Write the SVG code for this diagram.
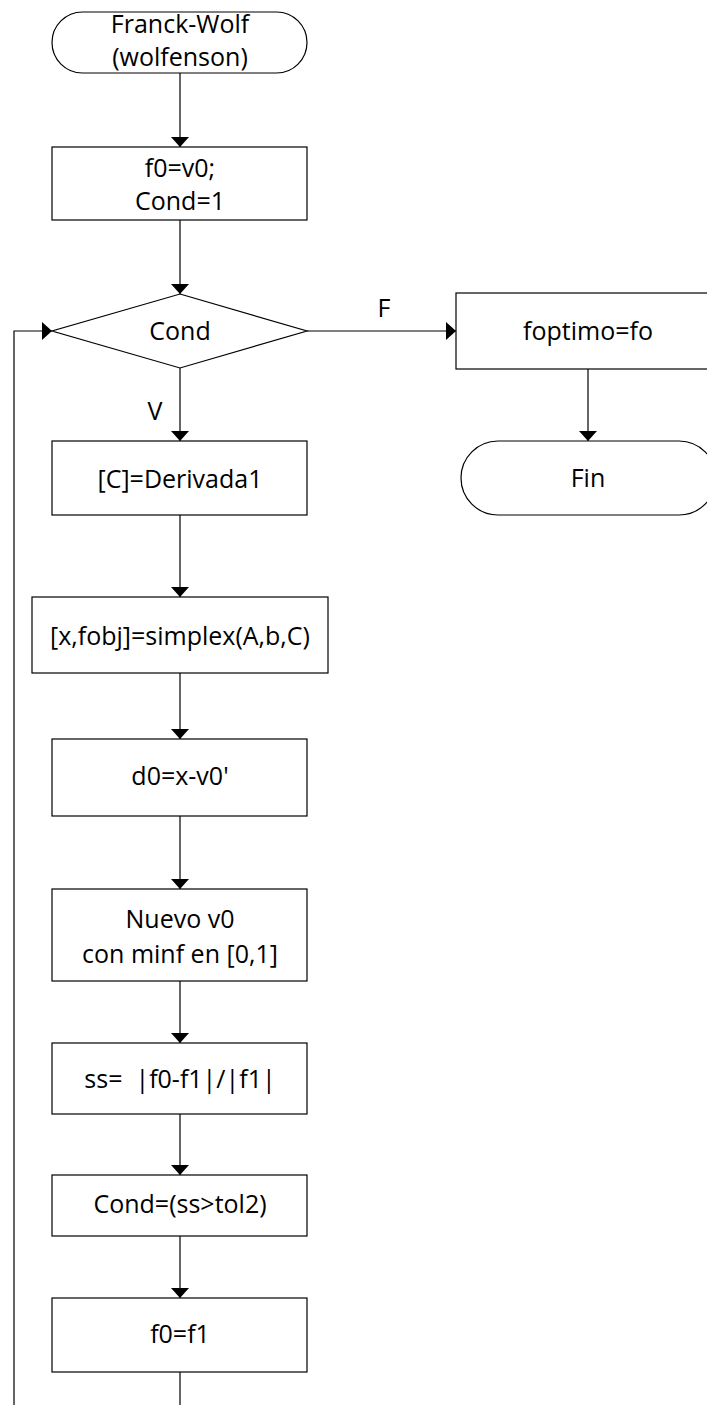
<svg xmlns="http://www.w3.org/2000/svg" width="707" height="1405" viewBox="0 0 707 1405">
<style>
.s{fill:#fff;stroke:#000;stroke-width:1.2}
.c{fill:none;stroke:#000;stroke-width:1.2}
text{font-family:"Open Sans","Liberation Sans",sans-serif;font-size:25px;fill:#000;text-anchor:middle}
</style>
<defs>
<marker id="ah" viewBox="0 0 10 18" refX="10" refY="9" markerWidth="10" markerHeight="18" markerUnits="userSpaceOnUse" orient="auto">
<path d="M0,0 L10,9 L0,18 z" fill="#000"/>
</marker>
</defs>
<rect width="707" height="1405" fill="#fff"/>
<g id="connectors">
<path class="c" d="M180,73 V147" marker-end="url(#ah)"/>
<path class="c" d="M180,220 V294" marker-end="url(#ah)"/>
<path class="c" d="M180,368 V441" marker-end="url(#ah)"/>
<path class="c" d="M307,331 H456" marker-end="url(#ah)"/>
<path class="c" d="M588,369 V441" marker-end="url(#ah)"/>
<path class="c" d="M180,515 V597" marker-end="url(#ah)"/>
<path class="c" d="M180,673 V739" marker-end="url(#ah)"/>
<path class="c" d="M180,816 V889" marker-end="url(#ah)"/>
<path class="c" d="M180,981 V1043" marker-end="url(#ah)"/>
<path class="c" d="M180,1114 V1175" marker-end="url(#ah)"/>
<path class="c" d="M180,1236 V1298" marker-end="url(#ah)"/>
<path class="c" d="M180,1372 V1405"/>
<path class="c" d="M14,1405 V331 H52" marker-end="url(#ah)"/>
<text x="155" y="420">V</text>
<text x="384" y="317">F</text>
</g>
<g id="start">
<rect class="s" x="52" y="12" width="255" height="61" rx="30.5"/>
<text x="180" y="33">Franck-Wolf</text>
<text x="180" y="66">(wolfenson)</text>
</g>
<g id="init">
<rect class="s" x="52" y="147" width="255" height="73"/>
<text x="180" y="177">f0=v0;</text>
<text x="180" y="210">Cond=1</text>
</g>
<g id="cond">
<path class="s" d="M180,294 L307,331 L180,368 L52,331 Z"/>
<text x="180" y="340">Cond</text>
</g>
<g id="foptimo">
<rect class="s" x="456" y="293" width="264" height="76"/>
<text x="588" y="340">foptimo=fo</text>
</g>
<g id="fin">
<rect class="s" x="461" y="441" width="255" height="74" rx="37"/>
<text x="588" y="487">Fin</text>
</g>
<g id="derivada">
<rect class="s" x="52" y="441" width="255" height="74"/>
<text x="180" y="488">[C]=Derivada1</text>
</g>
<g id="simplex">
<rect class="s" x="32" y="597" width="296" height="76"/>
<text x="180" y="645">[x,fobj]=simplex(A,b,C)</text>
</g>
<g id="d0">
<rect class="s" x="52" y="739" width="255" height="77"/>
<text x="180" y="785">d0=x-v0'</text>
</g>
<g id="nuevo">
<rect class="s" x="52" y="889" width="255" height="92"/>
<text x="180" y="928">Nuevo v0</text>
<text x="180" y="963">con minf en [0,1]</text>
</g>
<g id="ss">
<rect class="s" x="52" y="1043" width="255" height="71"/>
<text x="180" y="1088" xml:space="preserve">ss=  |f0-f1|/|f1|</text>
</g>
<g id="condupd">
<rect class="s" x="52" y="1175" width="255" height="61"/>
<text x="180" y="1213">Cond=(ss&gt;tol2)</text>
</g>
<g id="f0f1">
<rect class="s" x="52" y="1298" width="255" height="74"/>
<text x="180" y="1343">f0=f1</text>
</g>
</svg>
